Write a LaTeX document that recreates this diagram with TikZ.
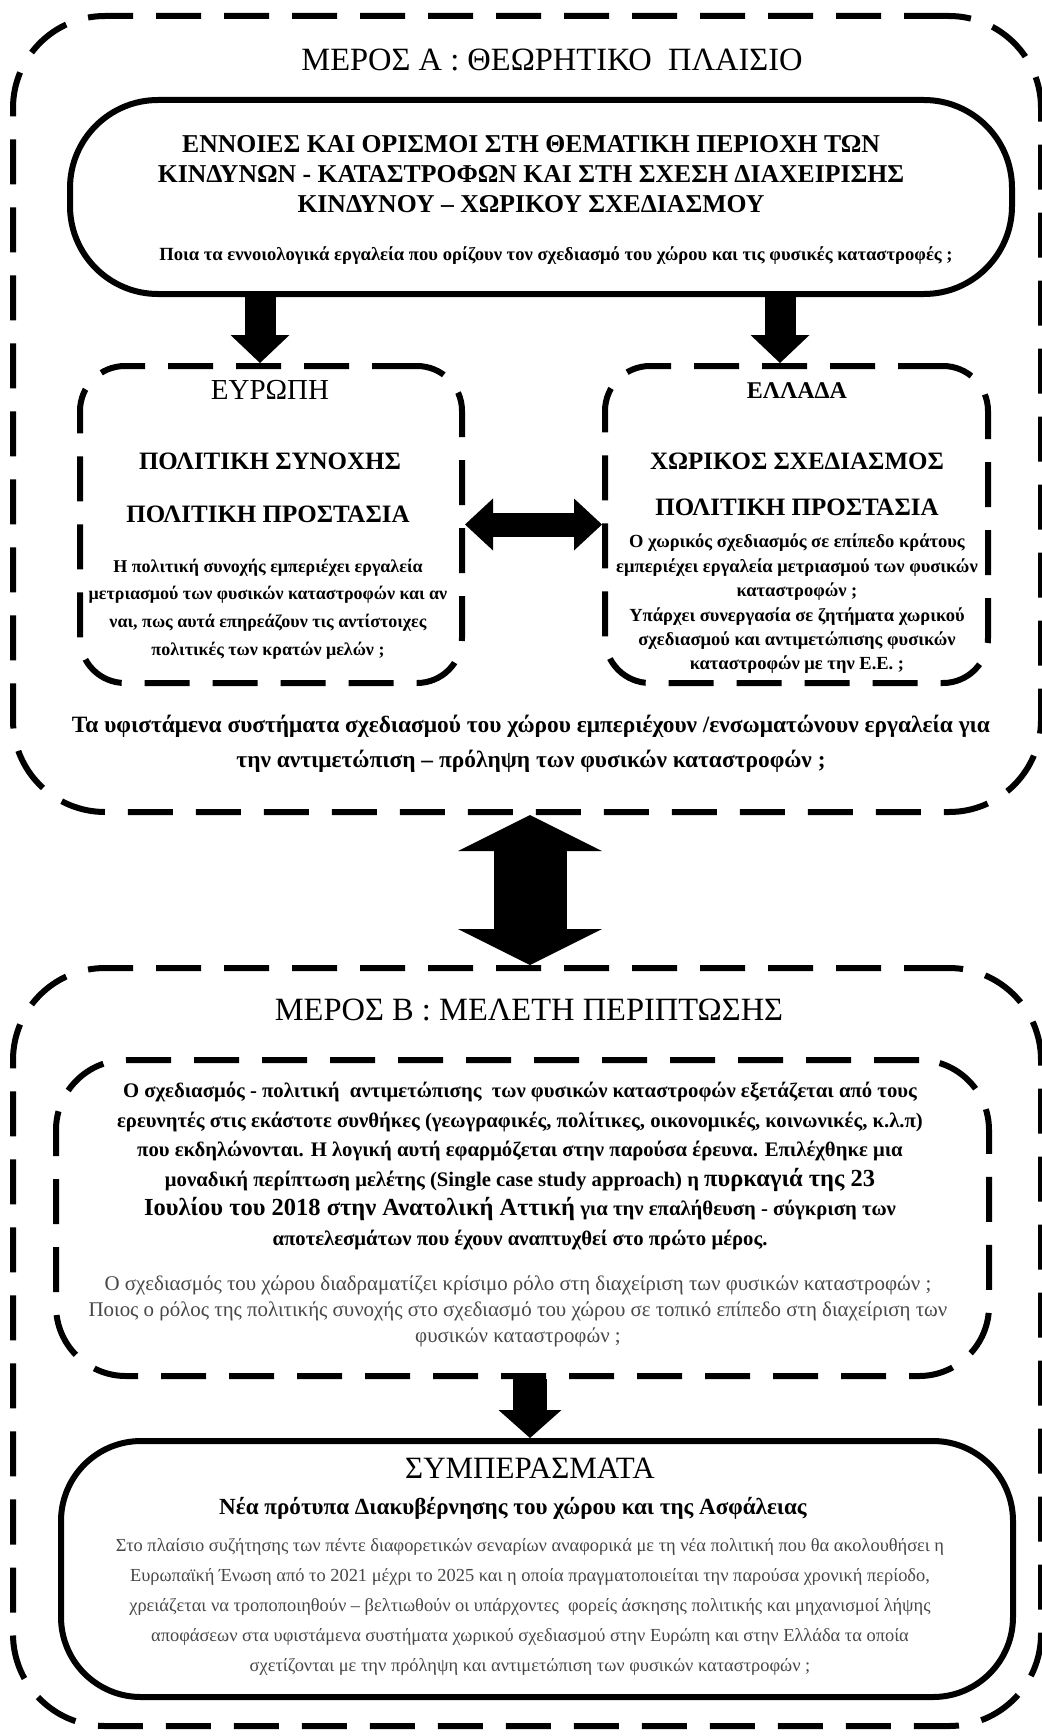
\documentclass[tikz,border=0pt]{standalone}
\usepackage{fontspec}
\setmainfont{Liberation Serif}
\usetikzlibrary{arrows.meta}
\newcommand{\myfs}[2]{\fontsize{#1pt}{#2pt}\selectfont}
\begin{document}
\begin{tikzpicture}[x=1pt,y=-1pt,
  dbox/.style={draw, rectangle, line width=6pt, dash pattern=on 45pt off 23pt},
  sbox/.style={draw, rectangle, line width=6pt},
  txt/.style={align=center, inner sep=0pt, text=black},
  gtxt/.style={align=center, inner sep=0pt, text=black!72},
  barrow/.style n args={3}{line width=#1, -{Triangle[width=#2,length=#3,line width=0pt]}},
  dbarrow/.style n args={3}{line width=#1, {Triangle[width=#2,length=#3,line width=0pt]}-{Triangle[width=#2,length=#3,line width=0pt]}},
]
\useasboundingbox (0,0) rectangle (1041,1736);
\fill[white] (0,0) rectangle (1041,1736);

% ---------- Part A ----------
\node[dbox, rounded corners=92pt, minimum width=1028pt, minimum height=796pt] (partA) at (527,414) {};
\node[txt, font=\myfs{32.5}{36}] (titleA) at (552,60) {ΜΕΡΟΣ Α : ΘΕΩΡΗΤΙΚΟ\ \ ΠΛΑΙΣΙΟ};

\node[sbox, rounded corners=88pt, minimum width=942pt, minimum height=194pt] (concepts) at (541,197) {};
\node[txt, font=\bfseries\myfs{25.7}{30}] (conceptsT) at (531,174) {ΕΝΝΟΙΕΣ ΚΑΙ ΟΡΙΣΜΟΙ ΣΤΗ ΘΕΜΑΤΙΚΗ ΠΕΡΙΟΧΗ ΤΩΝ\\ ΚΙΝΔΥΝΩΝ - ΚΑΤΑΣΤΡΟΦΩΝ ΚΑΙ ΣΤΗ ΣΧΕΣΗ ΔΙΑΧΕΙΡΙΣΗΣ\\ ΚΙΝΔΥΝΟΥ – ΧΩΡΙΚΟΥ ΣΧΕΔΙΑΣΜΟΥ};
\node[txt, font=\bfseries\myfs{18.6}{20}] (conceptsQ) at (556,256) {Ποια τα εννοιολογικά εργαλεία που ορίζουν τον σχεδιασμό του χώρου και τις φυσικές καταστροφές ;};

\node[dbox, rounded corners=45pt, minimum width=382pt, minimum height=317pt] (europe) at (271,524.5) {};
\node[txt, font=\myfs{29}{30}] (europeT) at (270,390) {ΕΥΡΩΠΗ};
\node[txt, font=\bfseries\myfs{25}{27}] (europeA) at (270,461) {ΠΟΛΙΤΙΚΗ ΣΥΝΟΧΗΣ};
\node[txt, font=\bfseries\myfs{25}{27}] (europeB) at (268,514) {ΠΟΛΙΤΙΚΗ ΠΡΟΣΤΑΣΙΑ};
\node[txt, font=\bfseries\myfs{18}{27.7}] (europeQ) at (268,609) {Η πολιτική συνοχής εμπεριέχει εργαλεία\\ μετριασμού των φυσικών καταστροφών και αν\\ ναι, πως αυτά επηρεάζουν τις αντίστοιχες\\ πολιτικές των κρατών μελών ;};

\node[dbox, rounded corners=45pt, minimum width=383pt, minimum height=317pt] (greece) at (796.5,524.5) {};
\node[txt, font=\bfseries\myfs{24}{26}] (greeceT) at (797,391) {ΕΛΛΑΔΑ};
\node[txt, font=\bfseries\myfs{25}{27}] (greeceA) at (797,461) {ΧΩΡΙΚΟΣ ΣΧΕΔΙΑΣΜΟΣ};
\node[txt, font=\bfseries\myfs{25}{27}] (greeceB) at (797,507) {ΠΟΛΙΤΙΚΗ ΠΡΟΣΤΑΣΙΑ};
\node[txt, font=\bfseries\myfs{18.5}{24.4}] (greeceQ) at (797,604) {Ο χωρικός σχεδιασμός σε επίπεδο κράτους\\ εμπεριέχει εργαλεία μετριασμού των φυσικών\\ καταστροφών ;\\ Υπάρχει συνεργασία σε ζητήματα χωρικού\\ σχεδιασμού και αντιμετώπισης φυσικών\\ καταστροφών με την Ε.Ε. ;};

\node[txt, font=\bfseries\myfs{23.4}{35}] (partAQ) at (531,744) {Τα υφιστάμενα συστήματα σχεδιασμού του χώρου εμπεριέχουν /ενσωματώνουν εργαλεία για\\ την αντιμετώπιση – πρόληψη των φυσικών καταστροφών ;};

% ---------- Part B ----------
\node[dbox, rounded corners=92pt, minimum width=1028pt, minimum height=758pt] (partB) at (527,1347) {};
\node[txt, font=\myfs{32.5}{36}] (titleB) at (529,1010) {ΜΕΡΟΣ Β : ΜΕΛΕΤΗ ΠΕΡΙΠΤΩΣΗΣ};

\node[dbox, rounded corners=70pt, minimum width=933pt, minimum height=316pt] (casebox) at (522.5,1218) {};
\node[txt, font=\bfseries\myfs{20.7}{29.5}] (caseT) at (520,1166) {Ο σχεδιασμός - πολιτική\ \ αντιμετώπισης\ \ των φυσικών καταστροφών εξετάζεται από τους\\ ερευνητές στις εκάστοτε συνθήκες (γεωγραφικές, πολίτικες, οικονομικές, κοινωνικές, κ.λ.π)\\ που εκδηλώνονται. Η λογική αυτή εφαρμόζεται στην παρούσα έρευνα. Επιλέχθηκε μια\\ μοναδική περίπτωση μελέτης (Single case study approach) η {\myfs{24.5}{29.5}πυρκαγιά της 23}\\ {\myfs{24.5}{29.5}Ιουλίου του 2018 στην Ανατολική Αττική} για την επαλήθευση - σύγκριση των\\ αποτελεσμάτων που έχουν αναπτυχθεί στο πρώτο μέρος.};
\node[gtxt, font=\myfs{20.9}{26}] (caseQ) at (518,1311) {Ο σχεδιασμός του χώρου διαδραματίζει κρίσιμο ρόλο στη διαχείριση των φυσικών καταστροφών ;\\ Ποιος ο ρόλος της πολιτικής συνοχής στο σχεδιασμό του χώρου σε τοπικό επίπεδο στη διαχείριση των\\ φυσικών καταστροφών ;};

\node[sbox, rounded corners=80pt, minimum width=952pt, minimum height=256pt] (concl) at (537,1569) {};
\node[txt, font=\myfs{31}{33}] (conclT) at (530,1468) {ΣΥΜΠΕΡΑΣΜΑΤΑ};
\node[txt, font=\bfseries\myfs{23.1}{25}] (conclS) at (513,1508) {Νέα πρότυπα Διακυβέρνησης του χώρου και της Ασφάλειας};
\node[gtxt, font=\myfs{18.4}{30}] (conclQ) at (530,1607) {Στο πλαίσιο συζήτησης των πέντε διαφορετικών σεναρίων αναφορικά με τη νέα πολιτική που θα ακολουθήσει η\\ Ευρωπαϊκή Ένωση από το 2021 μέχρι το 2025 και η οποία πραγματοποιείται την παρούσα χρονική περίοδο,\\ χρειάζεται να τροποποιηθούν – βελτιωθούν οι υπάρχοντες\ \ φορείς άσκησης πολιτικής και μηχανισμοί λήψης\\ αποφάσεων στα υφιστάμενα συστήματα χωρικού σχεδιασμού στην Ευρώπη και στην Ελλάδα τα οποία\\ σχετίζονται με την πρόληψη και αντιμετώπιση των φυσικών καταστροφών ;};

% ---------- Arrows ----------
\coordinate (ea) at (260,0);
\coordinate (ga) at (780,0);
\coordinate (mid) at (530,0);
\draw[barrow={31pt}{59pt}{28pt}] (concepts.south -| ea) -- (europe.north -| ea);
\draw[barrow={31pt}{59pt}{28pt}] (concepts.south -| ga) -- (greece.north -| ga);
\draw[dbarrow={24pt}{52pt}{28pt}] (europe.east) -- (greece.west);
\draw[dbarrow={73pt}{144pt}{36pt}] (partA.south -| mid) -- (partB.north -| mid);
\draw[barrow={34pt}{63pt}{28pt}] (casebox.south -| mid) -- (concl.north -| mid);
\end{tikzpicture}
\end{document}
